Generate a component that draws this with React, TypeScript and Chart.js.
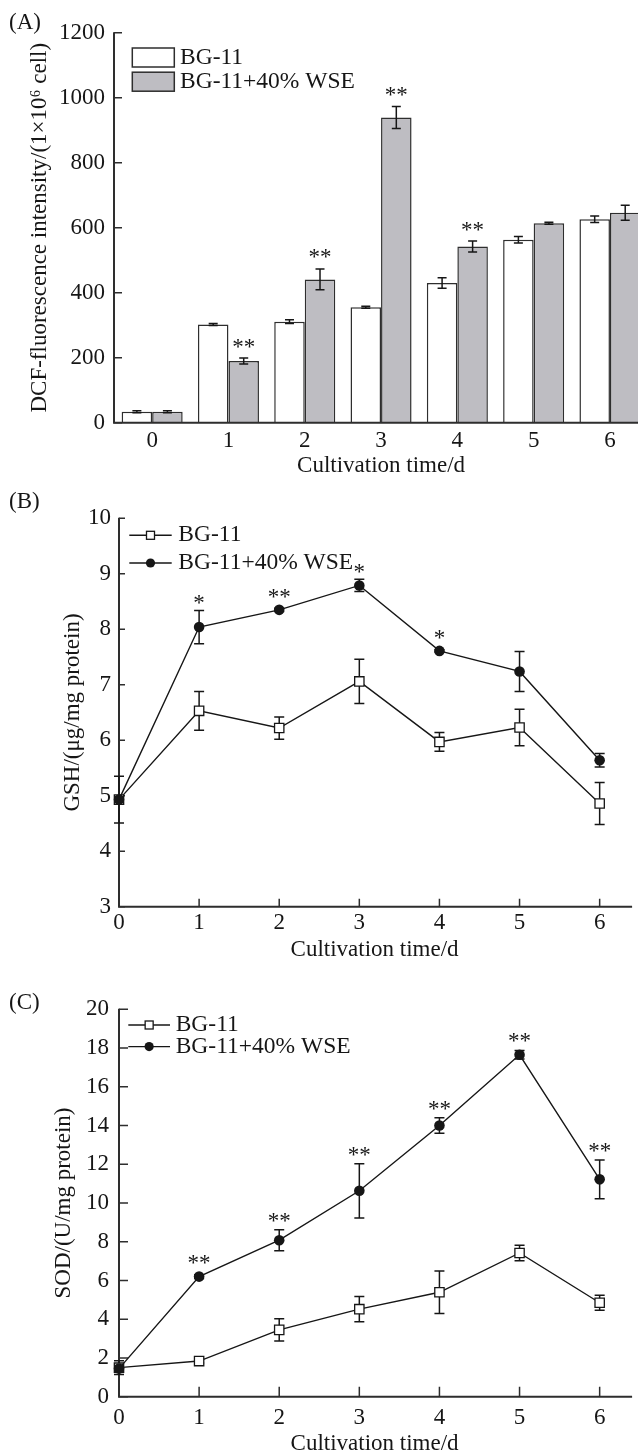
import React, { useEffect, useRef } from 'react';
import { Chart, registerables } from 'chart.js';

Chart.register(...registerables);

const SERIF = '"Liberation Serif", "Times New Roman", Times, serif';
const INK = '#161616';
const AXIS = '#2e2e2e';
const GRAY_FILL = '#bebdc2';

// ---------- Panel A: DCF fluorescence (bars) ----------
const dayLabels = ['0', '1', '2', '3', '4', '5', '6'];
const dcfBG11 = [34, 302, 311, 355, 430, 563, 626];
const dcfBG11Err = [3, 3, 6, 3, 16, 10, 10];
const dcfWSE = [34, 190, 441, 939, 542, 614, 646];
const dcfWSEErr = [3, 9, 32, 34, 17, 3, 23];
const dcfSig = ['', '**', '**', '**', '**', '', ''];
const dcfTicks = [0, 200, 400, 600, 800, 1000, 1200];

// ---------- Panel B: GSH ----------
const days = [0, 1, 2, 3, 4, 5, 6];
const gshBG11 = [4.93, 6.53, 6.22, 7.06, 5.97, 6.23, 4.86];
const gshBG11Err = [0.42, 0.35, 0.2, 0.4, 0.17, 0.33, 0.38];
const gshWSE = [4.93, 8.04, 8.35, 8.79, 7.61, 7.24, 5.64];
const gshWSEErr = [0.02, 0.3, 0.03, 0.11, 0.02, 0.36, 0.12];
const gshSig = ['', '*', '**', '*', '*', '', ''];
const gshTicks = [3, 4, 5, 6, 7, 8, 9, 10];

// ---------- Panel C: SOD ----------
const sodBG11 = [1.5, 1.84, 3.45, 4.52, 5.39, 7.42, 4.85];
const sodBG11Err = [0.35, 0.1, 0.57, 0.65, 1.1, 0.4, 0.39];
const sodWSE = [1.45, 6.2, 8.08, 10.63, 14.0, 17.65, 11.22];
const sodWSEErr = [0.1, 0.1, 0.54, 1.4, 0.4, 0.22, 1.0];
const sodSig = ['', '**', '**', '**', '**', '**', '**'];
const sodTicks = [0, 2, 4, 6, 8, 10, 12, 14, 16, 18, 20];

const seriesNames = ['BG-11', 'BG-11+40% WSE'];
const xTitle = 'Cultivation time/d';
const yTitleA = 'DCF-fluorescence intensity/(1×10⁶ cell)';
const yTitleB = 'GSH/(μg/mg protein)';
const yTitleC = 'SOD/(U/mg protein)';

type Cfg = {
  errors: number[][];
  errorsUnder: boolean;
  axesOnTop: boolean;
  capHalf: number;
  sig: string[];
  sigDataset: number;
  sigGap: number;
  markerR: number;
  yTickLen: number;
  xTickLen: number;
  panel: { text: string; x: number; y: number };
  legend: { kind: 'box' | 'line'; x0: number; x1: number; textX: number; rows: number[]; boxH: number };
};

const val = (d: any) => (typeof d === 'number' ? d : d.y);
const plainLabel = (v: any) => String(v);

function drawAxes(chart: any, cfg: Cfg) {
  const { ctx, chartArea: a, scales } = chart;
  const x = scales.x, y = scales.y;
  ctx.save();
  ctx.strokeStyle = AXIS;
  ctx.lineWidth = 2;
  ctx.beginPath();
  ctx.moveTo(a.left, a.top - 0.5);
  ctx.lineTo(a.left, a.bottom);
  ctx.lineTo(a.right + 2, a.bottom);
  ctx.stroke();
  ctx.lineWidth = 1.5;
  ctx.beginPath();
  y.ticks.forEach((t: any) => {
    const py = y.getPixelForValue(t.value);
    ctx.moveTo(a.left, py);
    ctx.lineTo(a.left + cfg.yTickLen, py);
  });
  if (cfg.xTickLen > 0) {
    x.ticks.forEach((t: any) => {
      const px = x.getPixelForValue(t.value);
      ctx.moveTo(px, a.bottom);
      ctx.lineTo(px, a.bottom - cfg.xTickLen);
    });
  }
  ctx.stroke();
  ctx.restore();
}

function drawErrors(chart: any, cfg: Cfg) {
  const { ctx, scales } = chart;
  const y = scales.y;
  ctx.save();
  ctx.strokeStyle = INK;
  ctx.lineWidth = 1.5;
  cfg.errors.forEach((errs, di) => {
    const meta = chart.getDatasetMeta(di);
    const data = chart.data.datasets[di].data;
    meta.data.forEach((el: any, i: number) => {
      const v = val(data[i]);
      const e = errs[i];
      if (!e) return;
      const yt = y.getPixelForValue(v + e);
      const yb = y.getPixelForValue(v - e);
      const c = cfg.capHalf;
      ctx.beginPath();
      ctx.moveTo(el.x, yt);
      ctx.lineTo(el.x, yb);
      ctx.moveTo(el.x - c, yt);
      ctx.lineTo(el.x + c, yt);
      ctx.moveTo(el.x - c, yb);
      ctx.lineTo(el.x + c, yb);
      ctx.stroke();
    });
  });
  ctx.restore();
}

function drawSig(chart: any, cfg: Cfg) {
  const { ctx, scales } = chart;
  const y = scales.y;
  const di = cfg.sigDataset;
  const meta = chart.getDatasetMeta(di);
  const data = chart.data.datasets[di].data;
  ctx.save();
  ctx.fillStyle = INK;
  ctx.font = `23px ${SERIF}`;
  ctx.textAlign = 'center';
  ctx.textBaseline = 'alphabetic';
  meta.data.forEach((el: any, i: number) => {
    const s = cfg.sig[i];
    if (!s) return;
    const v = val(data[i]);
    const e = cfg.errors[di][i] || 0;
    const top = Math.min(y.getPixelForValue(v + e), el.y - cfg.markerR);
    const center = top - cfg.sigGap;
    ctx.fillText(s, el.x, center + 11.5);
  });
  ctx.restore();
}

function drawLegend(chart: any, cfg: Cfg) {
  const { ctx } = chart;
  const L = cfg.legend;
  const ds = chart.data.datasets;
  ctx.save();
  L.rows.forEach((ry, i) => {
    const d = ds[i];
    if (L.kind === 'box') {
      ctx.fillStyle = d.backgroundColor;
      ctx.fillRect(L.x0, ry - L.boxH / 2, L.x1 - L.x0, L.boxH);
      ctx.strokeStyle = AXIS;
      ctx.lineWidth = 1.5;
      ctx.strokeRect(L.x0, ry - L.boxH / 2, L.x1 - L.x0, L.boxH);
    } else {
      ctx.strokeStyle = INK;
      ctx.lineWidth = 1.4;
      ctx.beginPath();
      ctx.moveTo(L.x0, ry);
      ctx.lineTo(L.x1, ry);
      ctx.stroke();
      const mx = (L.x0 + L.x1) / 2;
      if (d.pointStyle === 'rect') {
        ctx.fillStyle = '#ffffff';
        ctx.fillRect(mx - 4, ry - 4, 8, 8);
        ctx.lineWidth = 1.3;
        ctx.strokeRect(mx - 4, ry - 4, 8, 8);
      } else {
        ctx.fillStyle = INK;
        ctx.beginPath();
        ctx.arc(mx, ry, 4.6, 0, Math.PI * 2);
        ctx.fill();
      }
    }
    ctx.fillStyle = INK;
    ctx.font = `23.5px ${SERIF}`;
    ctx.textAlign = 'left';
    ctx.textBaseline = 'middle';
    ctx.fillText(d.label, L.textX, ry);
  });
  ctx.font = `23px ${SERIF}`;
  ctx.textBaseline = 'alphabetic';
  ctx.textAlign = 'left';
  ctx.fillStyle = INK;
  ctx.fillText(cfg.panel.text, cfg.panel.x, cfg.panel.y);
  ctx.restore();
}

function makeDecor(cfg: Cfg) {
  return {
    id: 'decor',
    beforeDatasetsDraw(chart: any) {
      if (!cfg.axesOnTop) drawAxes(chart, cfg);
      if (cfg.errorsUnder) drawErrors(chart, cfg);
    },
    afterDatasetsDraw(chart: any) {
      if (!cfg.errorsUnder) drawErrors(chart, cfg);
      if (cfg.axesOnTop) drawAxes(chart, cfg);
      drawSig(chart, cfg);
      drawLegend(chart, cfg);
    },
  };
}

const tickFont = { family: SERIF, size: 23, lineHeight: 1.2 };
const titleFont = { family: SERIF, size: 23, lineHeight: 1.2 };

function yScale(min: number, max: number, ticks: number[], width: number, pad: number, title: string, titlePad: number) {
  return {
    type: 'linear',
    min,
    max,
    afterBuildTicks: (s: any) => {
      s.ticks = ticks.map((v) => ({ value: v }));
    },
    afterFit: (s: any) => {
      s.width = width;
    },
    grid: { display: false, drawTicks: false },
    border: { display: false },
    ticks: { font: tickFont, color: INK, padding: pad, callback: plainLabel },
    title: { display: true, text: title, font: titleFont, color: INK, padding: { top: titlePad, bottom: 0 } },
  };
}

function lineChart(canvas: HTMLCanvasElement, o: any) {
  const toXY = (arr: number[]) => days.map((d, i) => ({ x: d, y: arr[i] }));
  return new Chart(canvas, {
    type: 'line',
    data: {
      datasets: [
        {
          label: seriesNames[0],
          data: toXY(o.bg),
          borderColor: INK,
          borderWidth: 1.4,
          pointStyle: 'rect',
          pointRadius: 6.6,
          pointBackgroundColor: '#ffffff',
          pointBorderColor: INK,
          pointBorderWidth: 1.3,
          clip: false,
          order: 2,
        },
        {
          label: seriesNames[1],
          data: toXY(o.wse),
          borderColor: INK,
          borderWidth: 1.4,
          pointStyle: 'circle',
          pointRadius: 5.3,
          pointBackgroundColor: INK,
          pointBorderColor: INK,
          pointBorderWidth: 0,
          clip: false,
          order: 1,
        },
      ],
    } as any,
    options: {
      animation: false,
      responsive: false,
      devicePixelRatio: 1,
      events: [],
      layout: { padding: { top: o.top, left: 0, right: o.padRight, bottom: 0 } },
      plugins: { legend: { display: false }, tooltip: { enabled: false } },
      scales: {
        x: {
          type: 'linear',
          min: 0,
          max: 6.38,
          afterBuildTicks: (s: any) => {
            s.ticks = days.map((v) => ({ value: v }));
          },
          afterFit: (s: any) => {
            s.height = o.xHeight;
          },
          grid: { display: false, drawTicks: false },
          border: { display: false },
          ticks: { font: tickFont, color: INK, padding: o.xPad, callback: plainLabel },
          title: { display: true, text: xTitle, font: titleFont, color: INK, padding: { top: 0, bottom: o.xTitlePad } },
        },
        y: yScale(o.min, o.max, o.ticks, o.yWidth, o.yPad, o.yTitle, o.yTitlePad),
      },
    } as any,
    plugins: [makeDecor(o.cfg)],
  });
}

export default function App() {
  const refA = useRef<HTMLCanvasElement>(null);
  const refB = useRef<HTMLCanvasElement>(null);
  const refC = useRef<HTMLCanvasElement>(null);

  useEffect(() => {
    const charts: Chart[] = [];

    charts.push(
      new Chart(refA.current!, {
        type: 'bar',
        data: {
          labels: dayLabels,
          datasets: [
            {
              label: seriesNames[0],
              data: dcfBG11,
              backgroundColor: '#ffffff',
              borderColor: AXIS,
              borderWidth: 1.5,
              categoryPercentage: 0.8,
              barPercentage: 1.0,
            },
            {
              label: seriesNames[1],
              data: dcfWSE,
              backgroundColor: GRAY_FILL,
              borderColor: AXIS,
              borderWidth: 1.5,
              categoryPercentage: 0.8,
              barPercentage: 1.0,
            },
          ],
        },
        options: {
          animation: false,
          responsive: false,
          devicePixelRatio: 1,
          events: [],
          layout: { padding: { top: 32.7, left: 0, right: 11.9, bottom: 0 } },
          plugins: { legend: { display: false }, tooltip: { enabled: false } },
          scales: {
            x: {
              type: 'category',
              offset: true,
              afterFit: (s: any) => {
                s.height = 57.3;
              },
              grid: { display: false, drawTicks: false },
              border: { display: false },
              ticks: { font: tickFont, color: INK, padding: 4.3 },
              title: { display: true, text: xTitle, font: titleFont, color: INK, padding: { top: 0, bottom: 0.6 } },
            },
            y: yScale(0, 1200, dcfTicks, 114, 9, yTitleA, 25.8),
          },
        } as any,
        plugins: [
          makeDecor({
            errors: [dcfBG11Err, dcfWSEErr],
            errorsUnder: false,
            axesOnTop: true,
            capHalf: 4.5,
            sig: dcfSig,
            sigDataset: 1,
            sigGap: 16,
            markerR: 0,
            yTickLen: 8,
            xTickLen: 0,
            panel: { text: '(A)', x: 9, y: 29 },
            legend: { kind: 'box', x0: 132.3, x1: 174.3, textX: 180, rows: [57.5, 81.7], boxH: 19 },
          }),
        ],
      })
    );

    charts.push(
      lineChart(refB.current!, {
        bg: gshBG11,
        wse: gshWSE,
        min: 3,
        max: 10,
        ticks: gshTicks,
        top: 38.3,
        padRight: 0.4,
        xHeight: 63.3,
        xPad: 2.4,
        xTitlePad: 6.6,
        yWidth: 119,
        yPad: 8,
        yTitle: yTitleB,
        yTitlePad: 59.4,
        cfg: {
          errors: [gshBG11Err, gshWSEErr],
          errorsUnder: true,
          axesOnTop: false,
          capHalf: 5,
          sig: gshSig,
          sigDataset: 1,
          sigGap: 12,
          markerR: 5,
          yTickLen: 6,
          xTickLen: 8,
          panel: { text: '(B)', x: 9, y: 28 },
          legend: { kind: 'line', x0: 129.3, x1: 171.7, textX: 178.3, rows: [55.3, 83], boxH: 0 },
        },
      })
    );

    charts.push(
      lineChart(refC.current!, {
        bg: sodBG11,
        wse: sodWSE,
        min: 0,
        max: 20,
        ticks: sodTicks,
        top: 49.3,
        padRight: 0.4,
        xHeight: 73.3,
        xPad: 7.8,
        xTitlePad: 12.6,
        yWidth: 119,
        yPad: 10,
        yTitle: yTitleC,
        yTitlePad: 49.8,
        cfg: {
          errors: [sodBG11Err, sodWSEErr],
          errorsUnder: true,
          axesOnTop: false,
          capHalf: 5,
          sig: sodSig,
          sigDataset: 1,
          sigGap: 13,
          markerR: 5,
          yTickLen: 9,
          xTickLen: 10,
          panel: { text: '(C)', x: 9, y: 49 },
          legend: { kind: 'line', x0: 128.3, x1: 170, textX: 175.7, rows: [65, 86.6], boxH: 0 },
        },
      })
    );

    return () => charts.forEach((c) => c.destroy());
  }, []);

  return (
    <div
      style={{
        position: 'absolute',
        left: 0,
        top: 0,
        width: 638,
        height: 1454,
        overflow: 'hidden',
        background: '#ffffff',
      }}
    >
      <canvas ref={refA} width={660} height={480} style={{ position: 'absolute', left: 0, top: 0 }} />
      <canvas ref={refB} width={638} height={490} style={{ position: 'absolute', left: 0, top: 480 }} />
      <canvas ref={refC} width={638} height={510} style={{ position: 'absolute', left: 0, top: 960 }} />
    </div>
  );
}
